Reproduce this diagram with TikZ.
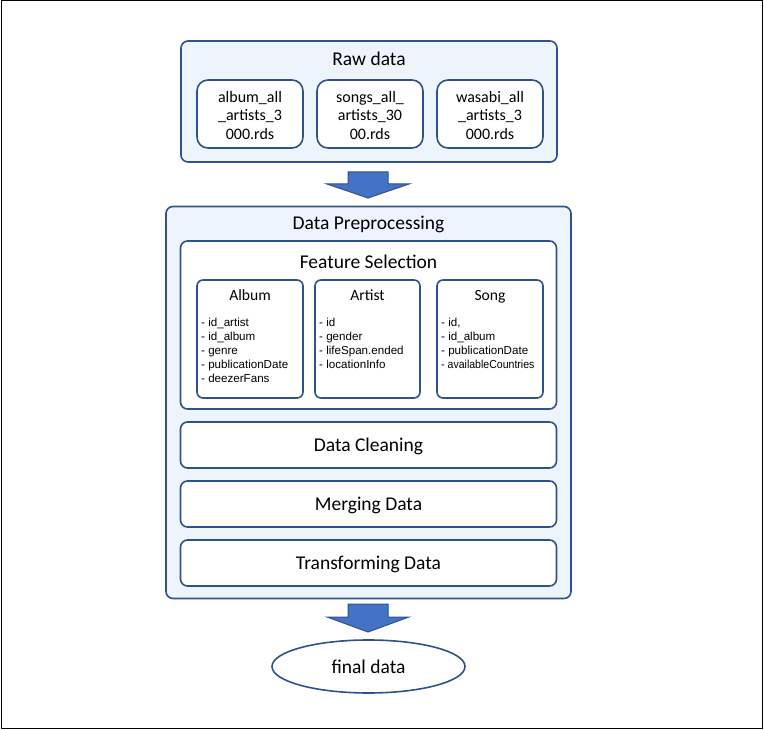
\documentclass[tikz,border=0pt]{standalone}
\usepackage{fontspec}
\setmainfont{Carlito}
\newfontfamily\listfont{Liberation Sans}
\newfontfamily\narrowlistfont[FakeStretch=0.91]{Liberation Sans}
\usetikzlibrary{shapes.geometric}

\definecolor{navy}{HTML}{2F528F}
\definecolor{paleblue}{HTML}{EEF4FB}
\definecolor{blockblue}{HTML}{4472C4}

\begin{document}
\begin{tikzpicture}[x=1pt, y=-1pt,
  panel/.style={draw=navy, line width=1.6pt, rounded corners=7pt, fill=paleblue, inner sep=0pt},
  whitebox/.style={draw=navy, line width=1.6pt, rounded corners=7pt, fill=white, inner sep=0pt},
  filebox/.style={whitebox, rounded corners=11pt, minimum width=106pt, minimum height=68pt},
  tablebox/.style={whitebox, rounded corners=6pt, minimum width=106pt, minimum height=118pt},
  stepbox/.style={whitebox, minimum width=376pt, minimum height=46pt},
  title/.style={font=\fontsize{19.5}{23}\selectfont, inner sep=0pt},
  filename/.style={font=\fontsize{16}{18.3}\selectfont, align=center, inner sep=0pt},
  tabletitle/.style={font=\fontsize{15.6}{18}\selectfont, inner sep=0pt},
  item/.style={font=\listfont\fontsize{11.6}{14}\selectfont, inner sep=0pt, anchor=base west},
  narrowitem/.style={item, font=\narrowlistfont\fontsize{11.6}{14}\selectfont},
  bigarrow/.style={draw=navy, line width=1pt, fill=blockblue, line join=miter}
]
  \useasboundingbox (0,0) rectangle (764,730);
  % outer frame
  \draw[line width=1pt] (1,1) rectangle (762,728);

  % Raw data panel with the three input files
  \node[panel, minimum width=376pt, minimum height=121pt] (raw) at (369,101.5) {};
  \node[title, anchor=base] (rawtitle) at (369,65.5) {Raw data};
  \node[filebox] (album) at (250,114) {};
  \node[filebox] (songs) at (370,114) {};
  \node[filebox] (wasabi) at (490,114) {};
  \node[filename] (albumtext) at (250,115.5) {album\_all\\\_artists\_3\\000.rds};
  \node[filename] (songstext) at (370,115.5) {songs\_all\_\\artists\_30\\00.rds};
  \node[filename] (wasabitext) at (490,115.5) {wasabi\_all\\\_artists\_3\\000.rds};

  % block arrow: raw data -> preprocessing
  \coordinate (arrowA) at (368,172);
  \begin{scope}[shift={(arrowA)}]
    \draw[bigarrow] (-20,0) -- (20,0) -- (20,12) -- (41,12) -- (0,26)
      -- (-41,12) -- (-20,12) -- cycle;
  \end{scope}

  % Data Preprocessing panel
  \node[panel, minimum width=405pt, minimum height=392pt] (prep) at (368.5,402.5) {};
  \node[title, anchor=base] (preptitle) at (368.5,230) {Data Preprocessing};

  % Feature Selection with the three tables
  \node[whitebox, minimum width=376pt, minimum height=168pt] (feat) at (368.5,325) {};
  \node[title, anchor=base] (feattitle) at (368.5,268.3) {Feature Selection};
  \node[tablebox] (albumtab) at (250,339) {};
  \node[tablebox, minimum width=105pt] (artisttab) at (367.5,339) {};
  \node[tablebox] (songtab) at (490,339) {};
  \node[tabletitle, anchor=base] (albumtitle) at (250,300.7) {Album};
  \node[tabletitle, anchor=base] (artisttitle) at (367.5,300.7) {Artist};
  \node[tabletitle, anchor=base] (songtitle) at (490,300.7) {Song};
  \foreach \name [count=\i] in {id\_artist, id\_album, genre, publicationDate, deezerFans}
    \node[item] (alb\i) at (201,312.5+14*\i) {- \name};
  \foreach \name [count=\i] in {id, gender, lifeSpan.ended, locationInfo}
    \node[item] (art\i) at (319,312.5+14*\i) {- \name};
  \foreach \name [count=\i] in {{id,}, id\_album, publicationDate}
    \node[item] (sng\i) at (441,312.5+14*\i) {- \name};
  \node[narrowitem] (sng4) at (441,368.5) {- availableCountries};

  % remaining steps
  \node[stepbox] (clean) at (368.5,445) {};
  \node[title, anchor=base] (cleantext) at (368.5,451) {Data Cleaning};
  \node[stepbox] (merge) at (368.5,504) {};
  \node[title, anchor=base] (mergetext) at (368.5,510) {Merging Data};
  \node[stepbox] (trans) at (368.5,563) {};
  \node[title, anchor=base] (transtext) at (368.5,569) {Transforming Data};

  % block arrow: preprocessing -> final data
  \coordinate (arrowB) at (368,604);
  \begin{scope}[shift={(arrowB)}]
    \draw[bigarrow] (-20,0) -- (20,0) -- (20,13) -- (41,13) -- (0,28)
      -- (-41,13) -- (-20,13) -- cycle;
  \end{scope}

  % result
  \node[ellipse, draw=navy, line width=1.6pt, minimum width=193pt, minimum height=53pt,
    inner sep=0pt] (final) at (368.5,666.5) {};
  \node[title, anchor=base] (finaltext) at (368.5,673.3) {final data};
\end{tikzpicture}
\end{document}
